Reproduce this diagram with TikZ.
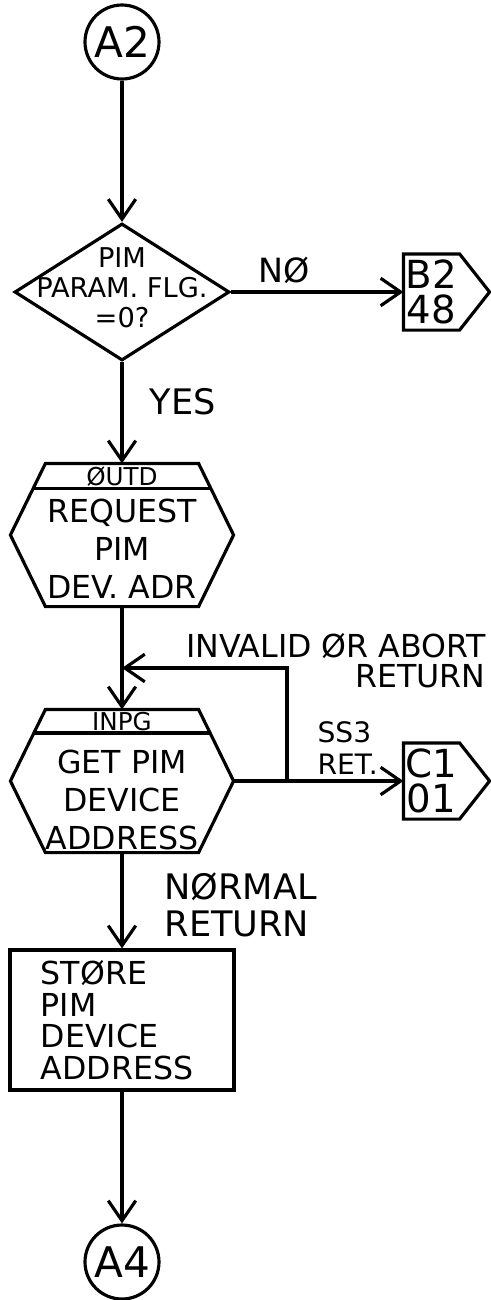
\documentclass[tikz,border=0pt]{standalone}
\usepackage{fontspec}
\setmainfont{DejaVu Sans}
\usetikzlibrary{arrows.meta, positioning, shapes.geometric}
\tikzset{
  every picture/.style={line width=1.8pt},
  conn/.style={draw, circle, minimum size=1.48cm, inner sep=0pt, font=\fontsize{24}{24}\selectfont},
  decision/.style={draw, diamond, minimum width=4.3cm, minimum height=2.74cm, inner sep=0pt},
  decisiontext/.style={align=center, inner sep=0pt, font=\fontsize{15.5}{17}\selectfont},
  hexframe/.style={minimum width=4.4cm, minimum height=2.8cm, inner sep=0pt},
  hextitle/.style={inner sep=0pt, font=\fontsize{14}{14}\selectfont},
  hextext/.style={align=center, inner sep=0pt, font=\fontsize{18}{21.5}\selectfont},
  process/.style={draw, rectangle, minimum width=4.48cm, minimum height=2.8cm, text width=3.25cm, align=left, font=\fontsize{18}{18}\selectfont},
  offpage/.style={rectangle, minimum width=1.06cm, minimum height=1.46cm, inner sep=0pt, align=center, font=\fontsize{22}{20}\selectfont},
  arrow/.style={-{Straight Barb[length=4mm, width=5.5mm]}},
  note/.style={inner sep=0pt, align=left, font=\fontsize{19}{19}\selectfont},
}
\begin{document}
\begin{tikzpicture}
  \useasboundingbox (0,0) rectangle (9.82,-26);
  \node[conn] (a2) at (2.44,-0.84) {A2};
  \node[decision] (dec) at (2.44,-5.84) {};
  \node[decisiontext] (dectext) at ([yshift=0.08cm]dec.center) {PIM\\PARAM. FLG.\\=0?};
  \node[offpage] (b2) at (8.63,-5.84) {B2\\48};
  \node[hexframe] (outd) at (2.44,-10.7) {};
  \node[hextitle] (outdtitle) at ([yshift=-0.27cm]outd.north) {ØUTD};
  \node[hextext] (outdtext) at ([yshift=-0.28cm]outd.center) {REQUEST\\PIM\\DEV. ADR};
  \node[hexframe] (inpg) at (2.44,-15.62) {};
  \node[hextitle] (inpgtitle) at ([yshift=-0.24cm]inpg.north) {INPG};
  \node[hextext] (inpgtext) at ([yshift=-0.38cm]inpg.center) {GET PIM\\DEVICE\\ADDRESS};
  \node[offpage] (c1) at (8.63,-15.62) {C1\\01};
  \node[process] (store) at (2.44,-20.4) {STØRE\\PIM\\DEVICE\\ADDRESS};
  \node[conn] (a4) at (2.44,-25.24) {A4};
  % hexagon outlines with title strip
  \draw (outd.west) -- ([xshift=0.7cm]outd.north west) -- ([xshift=-0.7cm]outd.north east) -- (outd.east)
    -- ([xshift=-0.7cm]outd.south east) -- ([xshift=0.7cm]outd.south west) -- cycle;
  \draw ([xshift=0.45cm, yshift=-0.5cm]outd.north west) -- ([xshift=-0.45cm, yshift=-0.5cm]outd.north east);
  \draw (inpg.west) -- ([xshift=0.7cm]inpg.north west) -- ([xshift=-0.7cm]inpg.north east) -- (inpg.east)
    -- ([xshift=-0.7cm]inpg.south east) -- ([xshift=0.7cm]inpg.south west) -- cycle;
  \draw ([xshift=0.45cm, yshift=-0.47cm]inpg.north west) -- ([xshift=-0.45cm, yshift=-0.47cm]inpg.north east);
  % off-page connectors
  \draw (b2.south west) -- (b2.north west) -- (b2.north east) -- ([xshift=0.6cm]b2.east) -- (b2.south east) -- cycle;
  \draw (c1.south west) -- (c1.north west) -- (c1.north east) -- ([xshift=0.6cm]c1.east) -- (c1.south east) -- cycle;
  \coordinate (ret) at (5.74,-15.62);
  \coordinate (join) at (2.44,-13.36);
  \draw[arrow] (a2) -- (dec);
  \draw[arrow] (dec) -- node[note, above=4pt, pos=0.31] (no) {NØ} (b2);
  \draw[arrow] (dec) -- node[note, font=\fontsize{20}{20}\selectfont, anchor=west, xshift=0.52cm, pos=0.39] (yes) {YES} (outd);
  \draw[arrow] (outd) -- (inpg);
  \draw[arrow] (inpg) -- node[note, font=\fontsize{16}{18}\selectfont, anchor=south west, xshift=-0.05cm, yshift=0.1cm, pos=0.5] (ss3) {SS3\\RET.} (c1);
  \draw[arrow] (ret) |- (join);
  \node[note, align=right, font=\fontsize{18}{17}\selectfont, anchor=north east] (invalid) at (9.74,-12.64) {INVALID ØR ABORT\\RETURN};
  \draw[arrow] (inpg) -- node[note, font=\fontsize{20}{21}\selectfont, anchor=west, xshift=0.82cm, pos=0.55] (normal) {NØRMAL\\RETURN} (store);
  \draw[arrow] (store) -- (a4);
\end{tikzpicture}
\end{document}
